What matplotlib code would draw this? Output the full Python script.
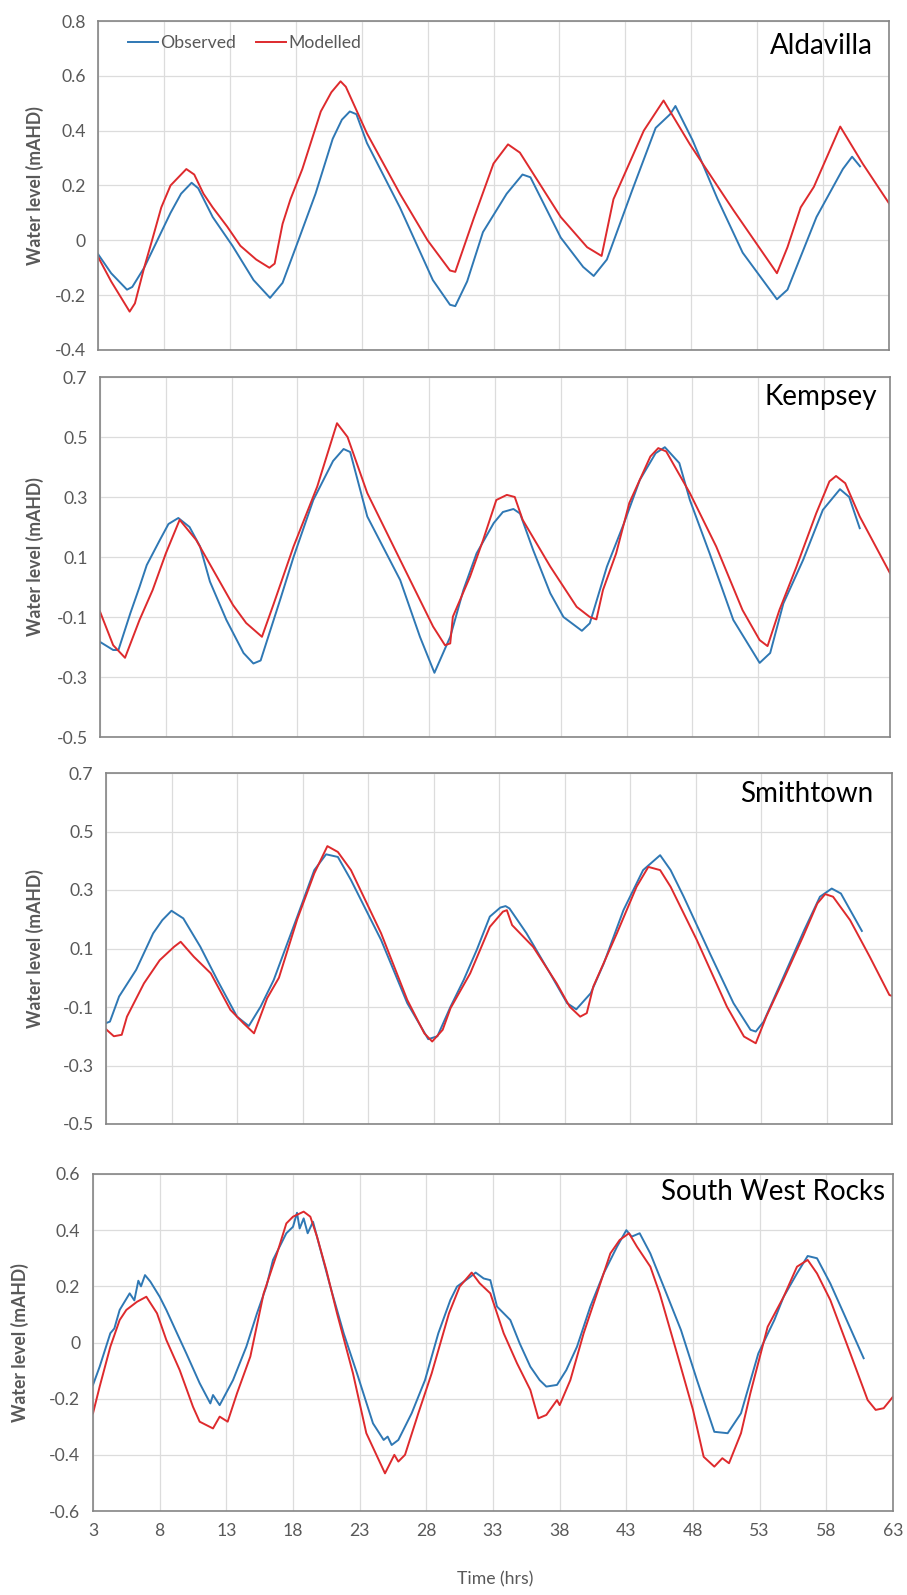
import matplotlib.pyplot as plt
import numpy as np

plt.rcParams['font.family'] = ['Lato', 'DejaVu Sans']

# ---- data (time in hrs, water level in mAHD) ----
ald_obs_t = [3.0, 4.0, 5.2, 5.6, 6.5, 7.5, 8.5, 9.3, 10.1, 10.6, 11.7, 13.2, 14.8, 16.05, 17.0, 18.2,
             19.5, 20.8, 21.5, 22.1, 22.6, 23.4, 25.9, 28.4, 29.7, 30.1, 31.0, 32.2, 34.0, 35.2, 35.8,
             38.1, 39.8, 40.6, 41.6, 43.5, 45.3, 46.4, 46.8, 48.1, 50.0, 51.9, 54.5, 55.3, 57.5, 59.5,
             60.2, 60.8]
ald_obs_v = [-0.05, -0.12, -0.18, -0.17, -0.10, 0.0, 0.10, 0.17, 0.21, 0.19, 0.085, -0.02, -0.145, -0.21,
             -0.155, 0.0, 0.17, 0.37, 0.44, 0.47, 0.46, 0.355, 0.12, -0.145, -0.235, -0.24, -0.15, 0.03,
             0.17, 0.24, 0.23, 0.01, -0.097, -0.13, -0.07, 0.18, 0.41, 0.46, 0.49, 0.365, 0.15, -0.045,
             -0.215, -0.18, 0.085, 0.26, 0.305, 0.27]
ald_mod_t = [3.0, 4.0, 5.4, 5.8, 6.5, 7.1, 7.8, 8.5, 9.7, 10.3, 11.0, 11.7, 12.8, 13.8, 15.0, 16.0, 16.4,
             17.0, 17.6, 18.5, 19.3, 19.9, 20.7, 21.4, 21.8, 23.4, 25.9, 28.0, 29.7, 30.1, 31.5, 33.0,
             34.1, 35.0, 38.1, 40.1, 41.2, 42.1, 44.4, 45.9, 47.9, 51.2, 54.5, 55.3, 56.3, 57.3, 59.3,
             61.0, 63.0]
ald_mod_v = [-0.06, -0.15, -0.26, -0.23, -0.10, 0.0, 0.12, 0.20, 0.26, 0.24, 0.17, 0.12, 0.05, -0.02,
             -0.07, -0.10, -0.085, 0.06, 0.15, 0.26, 0.38, 0.47, 0.54, 0.58, 0.56, 0.39, 0.17, 0.0, -0.11,
             -0.115, 0.08, 0.28, 0.35, 0.32, 0.085, -0.025, -0.057, 0.15, 0.40, 0.51, 0.35, 0.11, -0.12,
             -0.025, 0.12, 0.195, 0.415, 0.28, 0.135]

kem_obs_t = [3.0, 4.0, 4.4, 5.3, 6.0, 6.55, 7.55, 8.2, 8.95, 9.8, 10.6, 11.35, 12.6, 13.9, 14.65, 15.2,
             16.7, 17.7, 19.2, 20.7, 21.5, 22.0, 23.3, 25.8, 27.3, 28.4, 29.6, 30.6, 31.6, 32.9, 33.6,
             34.4, 34.9, 35.9, 37.2, 38.2, 39.6, 40.2, 41.5, 42.8, 44.0, 45.2, 45.9, 47.0, 47.8, 49.3,
             51.1, 53.1, 53.9, 54.9, 56.4, 57.9, 59.2, 59.9, 60.7]
kem_obs_v = [-0.183, -0.21, -0.21, -0.088, 0.0, 0.073, 0.157, 0.21, 0.23, 0.20, 0.135, 0.018, -0.11,
             -0.22, -0.255, -0.245, -0.04, 0.10, 0.29, 0.42, 0.46, 0.45, 0.235, 0.023, -0.166, -0.286,
             -0.166, -0.01, 0.112, 0.213, 0.25, 0.26, 0.245, 0.123, -0.021, -0.10, -0.146, -0.121, 0.068,
             0.213, 0.357, 0.446, 0.466, 0.413, 0.29, 0.112, -0.11, -0.253, -0.22, -0.055, 0.09, 0.257,
             0.326, 0.30, 0.196]
kem_mod_t = [3.0, 4.0, 4.9, 6.0, 7.0, 8.0, 9.05, 10.3, 13.1, 14.1, 15.3, 16.2, 17.7, 19.5, 21.0, 21.8,
             23.3, 25.8, 28.3, 29.2, 29.6, 29.8, 31.1, 32.1, 33.1, 33.9, 34.5, 35.1, 37.2, 39.2, 40.2,
             40.7, 41.2, 42.2, 43.2, 44.8, 45.4, 46.0, 47.8, 49.8, 51.8, 53.1, 53.7, 54.6, 55.9, 57.4,
             58.4, 58.9, 59.6, 60.7, 63.0]
kem_mod_v = [-0.082, -0.194, -0.236, -0.11, -0.01, 0.112, 0.224, 0.157, -0.06, -0.12, -0.166, -0.055,
             0.135, 0.335, 0.546, 0.50, 0.313, 0.09, -0.132, -0.194, -0.188, -0.099, 0.034, 0.157, 0.29,
             0.307, 0.30, 0.224, 0.068, -0.066, -0.10, -0.108, -0.01, 0.112, 0.28, 0.435, 0.463, 0.452,
             0.313, 0.135, -0.077, -0.177, -0.197, -0.077, 0.068, 0.246, 0.352, 0.37, 0.346, 0.235, 0.046]

smi_obs_t = [3.0, 3.3, 4.0, 5.3, 6.6, 7.3, 8.0, 8.9, 10.2, 11.5, 13.0, 13.9, 14.8, 15.8, 17.6, 18.9,
             19.8, 20.7, 21.7, 24.0, 26.0, 27.6, 28.3, 29.3, 30.3, 31.3, 32.3, 33.1, 33.5, 33.8, 35.1,
             36.9, 38.2, 38.9, 40.0, 41.0, 42.5, 44.0, 45.3, 46.1, 47.1, 49.1, 50.9, 52.2, 52.6, 53.2,
             54.5, 56.3, 57.5, 58.4, 59.1, 60.7]
smi_obs_v = [-0.155, -0.15, -0.064, 0.027, 0.152, 0.197, 0.229, 0.203, 0.106, -0.008, -0.133, -0.165,
             -0.099, -0.008, 0.209, 0.368, 0.422, 0.413, 0.334, 0.129, -0.087, -0.21, -0.20, -0.099,
             -0.008, 0.095, 0.209, 0.24, 0.245, 0.237, 0.152, 0.015, -0.087, -0.108, -0.053, 0.049,
             0.231, 0.368, 0.419, 0.368, 0.277, 0.083, -0.087, -0.178, -0.184, -0.15, -0.019, 0.163,
             0.277, 0.305, 0.288, 0.16]
smi_mod_t = [3.0, 3.6, 4.2, 4.6, 5.9, 7.1, 8.2, 8.7, 9.7, 11.0, 12.5, 13.5, 14.3, 15.3, 16.2, 17.6, 18.9,
             19.9, 20.7, 21.7, 24.0, 26.0, 27.3, 27.9, 28.7, 29.3, 30.8, 32.3, 33.3, 33.6, 34.0, 35.6,
             37.4, 38.4, 39.2, 39.7, 40.2, 42.0, 43.5, 44.4, 45.3, 46.1, 48.1, 50.4, 51.7, 52.6, 53.4,
             54.7, 56.2, 57.3, 57.9, 58.5, 59.8, 61.3, 62.8, 63.0]
smi_mod_v = [-0.176, -0.20, -0.195, -0.133, -0.019, 0.06, 0.106, 0.123, 0.072, 0.015, -0.11, -0.156,
             -0.19, -0.07, 0.0, 0.20, 0.357, 0.45, 0.43, 0.368, 0.152, -0.076, -0.19, -0.218, -0.178,
             -0.104, 0.015, 0.174, 0.226, 0.231, 0.18, 0.106, -0.019, -0.099, -0.133, -0.121, -0.03,
             0.152, 0.311, 0.379, 0.368, 0.311, 0.129, -0.099, -0.201, -0.224, -0.133, -0.008, 0.14,
             0.254, 0.286, 0.277, 0.197, 0.072, -0.059, -0.062]

swr_obs_t = [3.0, 3.5, 4.3, 4.6, 5.0, 5.75, 6.1, 6.4, 6.6, 6.9, 7.3, 8.0, 8.5, 9.3, 10.0, 11.0, 11.8, 12.0,
             12.5, 13.5, 14.5, 15.3, 16.0, 16.5, 17.5, 18.0, 18.3, 18.5, 18.8, 19.1, 19.5, 20.0, 20.8,
             21.8, 22.8, 24.0, 24.8, 25.1, 25.4, 25.9, 26.9, 27.9, 28.9, 29.8, 30.3, 31.3, 31.7, 32.3,
             32.8, 33.3, 34.3, 35.0, 35.8, 36.5, 37.0, 37.8, 38.5, 39.3, 40.3, 41.3, 42.3, 43.0, 43.4,
             44.0, 44.8, 45.8, 47.1, 48.3, 49.6, 50.6, 51.6, 52.9, 54.1, 54.8, 55.8, 56.6, 57.3, 58.3,
             59.3, 60.8]
swr_obs_v = [-0.151, -0.086, 0.033, 0.05, 0.116, 0.175, 0.15, 0.22, 0.20, 0.24, 0.217, 0.163, 0.116,
             0.033, -0.039, -0.145, -0.217, -0.187, -0.223, -0.134, -0.015, 0.104, 0.199, 0.294, 0.389,
             0.412, 0.462, 0.406, 0.442, 0.389, 0.43, 0.341, 0.199, 0.033, -0.11, -0.288, -0.347, -0.335,
             -0.365, -0.347, -0.252, -0.134, 0.033, 0.151, 0.199, 0.234, 0.249, 0.228, 0.222, 0.128,
             0.08, -0.003, -0.086, -0.134, -0.157, -0.151, -0.098, -0.015, 0.128, 0.246, 0.341, 0.40,
             0.377, 0.389, 0.317, 0.199, 0.044, -0.134, -0.318, -0.323, -0.252, -0.039, 0.08, 0.163,
             0.246, 0.308, 0.30, 0.21, 0.104, -0.056]
swr_mod_t = [3.0, 3.5, 4.3, 5.0, 5.5, 6.3, 7.0, 7.8, 8.5, 9.5, 10.5, 11.0, 12.0, 12.5, 13.1, 13.8, 14.8,
             15.8, 16.8, 17.5, 18.0, 18.8, 19.3, 19.8, 20.5, 21.3, 22.5, 23.5, 24.9, 25.6, 25.9, 26.4,
             27.4, 28.4, 29.7, 30.5, 31.4, 32.0, 32.8, 33.8, 34.8, 35.8, 36.4, 37.0, 37.8, 38.0, 38.8,
             39.8, 40.8, 41.8, 42.5, 43.2, 43.8, 44.8, 45.5, 46.8, 48.0, 48.8, 49.6, 50.2, 50.7, 51.6,
             52.3, 53.6, 54.8, 55.8, 56.6, 57.3, 58.3, 59.8, 61.1, 61.7, 62.3, 63.0]
swr_mod_v = [-0.252, -0.157, -0.015, 0.08, 0.116, 0.145, 0.163, 0.104, 0.009, -0.098, -0.229, -0.282,
             -0.306, -0.264, -0.282, -0.181, -0.05, 0.175, 0.317, 0.424, 0.448, 0.466, 0.448, 0.377,
             0.258, 0.104, -0.11, -0.323, -0.466, -0.40, -0.424, -0.40, -0.252, -0.11, 0.104, 0.199,
             0.249, 0.211, 0.175, 0.033, -0.074, -0.169, -0.27, -0.258, -0.205, -0.223, -0.134, 0.033,
             0.175, 0.317, 0.365, 0.389, 0.341, 0.27, 0.175, -0.039, -0.24, -0.407, -0.442, -0.412,
             -0.43, -0.323, -0.181, 0.056, 0.163, 0.27, 0.294, 0.246, 0.151, -0.039, -0.205, -0.24,
             -0.234, -0.193]

stations = ['Aldavilla', 'Kempsey', 'Smithtown', 'South West Rocks']
y_ticks = [[-0.4, -0.2, 0, 0.2, 0.4, 0.6, 0.8],
           [-0.5, -0.3, -0.1, 0.1, 0.3, 0.5, 0.7],
           [-0.5, -0.3, -0.1, 0.1, 0.3, 0.5, 0.7],
           [-0.6, -0.4, -0.2, 0, 0.2, 0.4, 0.6]]
x_ticks = list(range(3, 64, 5))

series = [(ald_obs_t, ald_obs_v, ald_mod_t, ald_mod_v),
          (kem_obs_t, kem_obs_v, kem_mod_t, kem_mod_v),
          (smi_obs_t, smi_obs_v, smi_mod_t, smi_mod_v),
          (swr_obs_t, swr_obs_v, swr_mod_t, swr_mod_v)]

W, H = 907, 1595
# axes boxes in pixels: left, right, top, bottom
boxes = [(98, 889, 21, 350), (100, 890, 377, 737), (106, 892, 773, 1124), (93, 893, 1174, 1511)]
ylabel_x = [35, 35, 35, 20]
name_pos = [(873, 33), (877, 384), (873, 781), (885, 1179)]

BLUE = '#2F78B4'
RED = '#DE2A2D'
GREY = '#595959'

fig = plt.figure(figsize=(W / 100, H / 100), dpi=100)

for i, (ot, ov, mt, mv) in enumerate(series):
    l, r, t, b = boxes[i]
    ax = fig.add_axes([l / W, 1 - b / H, (r - l) / W, (b - t) / H])
    ax.plot(ot, ov, color=BLUE, lw=1.4, label='Observed')
    ax.plot(mt, mv, color=RED, lw=1.4, label='Modelled')
    yt = y_ticks[i]
    ax.set_xlim(3, 63)
    ax.set_ylim(yt[0], yt[-1])
    ax.set_xticks(x_ticks)
    ax.set_yticks(yt)
    ax.set_yticklabels(['0' if v == 0 else f'{v:g}' for v in yt])
    if i == 3:
        ax.set_xticklabels([str(x) for x in x_ticks])
    else:
        ax.set_xticklabels([])
    ax.tick_params(length=0, labelsize=12.7, labelcolor=GREY, pad=9)
    ax.grid(True, color='#dcdcdc', lw=0.9)
    ax.set_axisbelow(True)
    for s in ax.spines.values():
        s.set_color('#858585')
        s.set_linewidth(1.2)
    fig.text(ylabel_x[i] / W, 1 - ((t + b) / 2) / H, 'Water level (mAHD)', rotation=90,
             ha='center', va='center', fontsize=12.7, fontweight='bold', color=GREY)
    fig.text(name_pos[i][0] / W, 1 - name_pos[i][1] / H, stations[i], ha='right', va='top',
             fontsize=20, color='black')
    if i == 0:
        ax.legend(loc='upper left', bbox_to_anchor=(0.02, 1.0), ncol=2, frameon=False,
                  fontsize=12.7, labelcolor=GREY, handlelength=1.7, handletextpad=0.15,
                  columnspacing=1.1, borderaxespad=0.4)

fig.text(495 / W, 1 - 1579 / H, 'Time (hrs)', ha='center', va='center', fontsize=12.7, color=GREY)

plt.savefig('out.png', dpi=100)
